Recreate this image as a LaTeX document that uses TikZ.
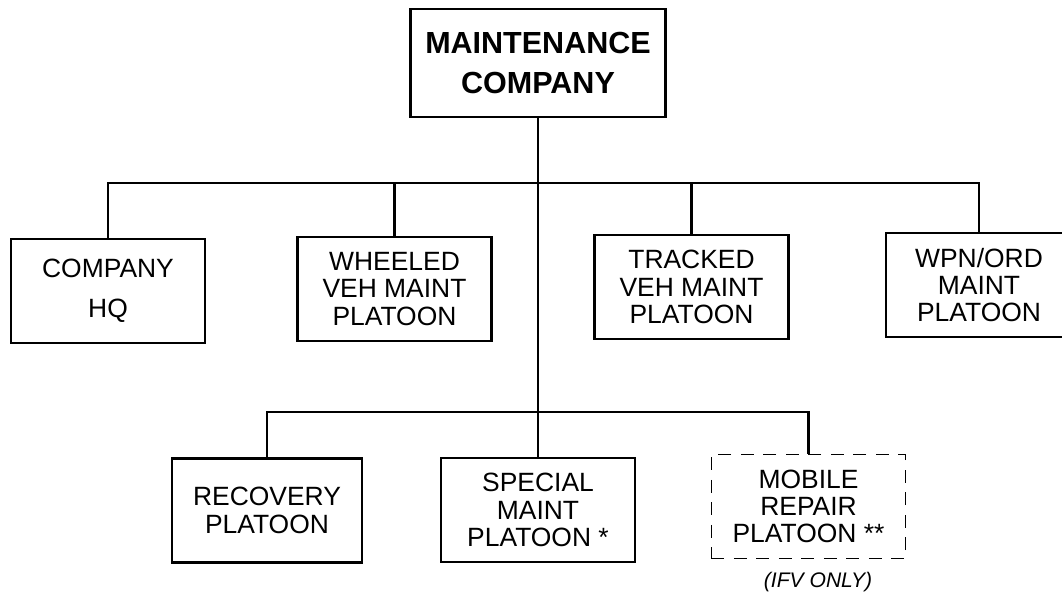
\documentclass[tikz,border=0pt]{standalone}
\usepackage{fontspec}
\setmainfont{Liberation Sans}
\begin{document}
\begin{tikzpicture}[
    x=0.025cm, y=-0.025cm,
    link/.style={line width=1.5pt},
    cmdbox/.style={draw, line width=1.8pt, align=center, minimum width=6.375cm,
                   minimum height=2.7cm, font=\fontsize{21.7}{28.5}\selectfont\bfseries},
    unitbox/.style={draw, line width=1.8pt, align=center, minimum width=4.85cm,
                    minimum height=2.6cm, font=\fontsize{18.8}{19.4}\selectfont},
    optbox/.style={unitbox, line width=1.1pt, dash pattern=on 9pt off 7pt},
    note/.style={font=\fontsize{15}{18}\selectfont\itshape},
]
\path[use as bounding box, clip] (0,0) rectangle (1062,598);

% Company
\node[cmdbox] (company) at (538,63) {MAINTENANCE\\COMPANY};

% Upper row
\node[unitbox] (hq)      at (108,291)   {COMPANY\\[9.3pt]HQ};
\node[unitbox] (wheeled) at (394.5,289) {WHEELED\\VEH MAINT\\PLATOON};
\node[unitbox] (tracked) at (691.5,287) {TRACKED\\VEH MAINT\\PLATOON};
\node[unitbox, minimum width=4.65cm] (wpnord) at (979,285) {WPN/ORD\\MAINT\\PLATOON};

% Lower row
\node[unitbox, minimum width=4.75cm] (recovery) at (267,510.5) {RECOVERY\\PLATOON};
\node[unitbox] (special) at (538,510) {SPECIAL\\MAINT\\PLATOON *};
\node[optbox]  (mobile)  at (808.5,506.5) {MOBILE\\REPAIR\\PLATOON **};
\node[note] (ifv) at (818,582) {(IFV ONLY)};

% Connectors
\coordinate (busU) at (538,183);
\coordinate (busL) at (538,412);
\draw[link] (company.south) -- (special.north);
\draw[link] (hq.north) |- (busU) -| (wpnord.north);
\draw[link] (wheeled.north) -- (wheeled.north |- busU);
\draw[link] (tracked.north) -- (tracked.north |- busU);
\draw[link] (recovery.north) |- (busL) -| (mobile.north);
\end{tikzpicture}
\end{document}
